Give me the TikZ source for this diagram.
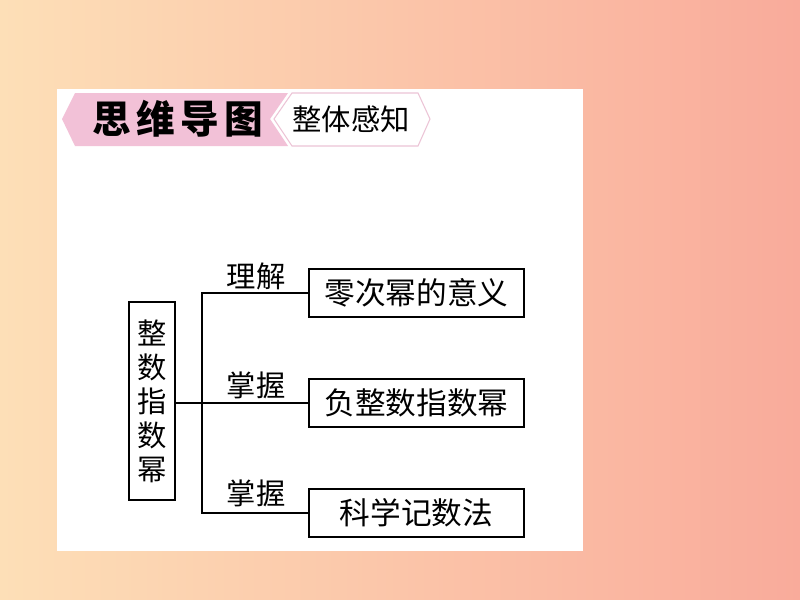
\documentclass[tikz,border=0pt]{standalone}
\usepackage{fontspec}
\newfontfamily\cjk{Noto Sans CJK SC}[BoldFont={Noto Sans CJK SC Black}]
\usepackage{xcolor}
\definecolor{peach}{RGB}{253, 223, 183}
\definecolor{apricot}{RGB}{252, 196, 166}
\definecolor{salmon}{RGB}{249, 171, 155}
\definecolor{banner}{RGB}{242, 193, 215}
\definecolor{bannerline}{RGB}{236, 196, 214}
\usepackage{tikz}
\usetikzlibrary{positioning}
\tikzstyle{topic} = [rectangle, draw, line width=1.5pt, minimum width=34.5pt, minimum height=148.5pt, align=center, inner sep=0pt, font=\cjk\fontsize{22}{25.5}\selectfont]
\tikzstyle{leaf} = [rectangle, draw, line width=1.5pt, minimum width=161.25pt, minimum height=36pt, inner sep=0pt, font=\cjk\fontsize{23}{26}\selectfont]
\tikzstyle{verb} = [inner sep=0pt, font=\cjk\fontsize{22}{26}\selectfont]
\tikzstyle{branch} = [line width=1.5pt]

\begin{document}
\begin{tikzpicture}[x=0.75pt, y=-0.75pt, node distance=45pt]
    \useasboundingbox (0,0) rectangle (800,600);
    \shade[left color=peach, middle color=apricot, right color=salmon] (0,0) rectangle (800,600);
    \fill[white] (57,89) rectangle (583,551);

    % header
    \fill[banner] (62,119) -- (75,93) -- (288,93) -- (270,119) -- (288,146) -- (75,146) -- cycle;
    \draw[bannerline, line width=0.8pt] (274,119) -- (292,93) -- (418,93) -- (430,119) -- (418,146) -- (292,146) -- cycle;
    \node[inner sep=0pt, font=\cjk\bfseries\fontsize{29}{30}\selectfont\addfontfeature{LetterSpace=14}] (title) at (178,119) {思维导图};
    \node[inner sep=0pt, font=\cjk\fontsize{22}{26}\selectfont] (subtitle) at (351,119) {整体感知};

    % map
    \node[topic] (power) at (152,401) {整\\数\\指\\数\\幂};
    \node[leaf] (zero) at (416.5,293) {零次幂的意义};
    \node[leaf, below=of zero] (neg) {负整数指数幂};
    \node[leaf, below=of neg] (sci) {科学记数法};
    \path (neg.west) ++(-106,0) coordinate (split);

    \draw[branch] (power.east |- split) -- (split);
    \draw[branch] (zero.west) -| (split) |- (sci.west);
    \draw[branch] (split) -- (neg.west);

    \node[verb] (know) at (256,276) {理解};
    \node[verb] (grasp) at (256,385) {掌握};
    \node[verb] (grasp2) at (256,493) {掌握};
\end{tikzpicture}
\end{document}
